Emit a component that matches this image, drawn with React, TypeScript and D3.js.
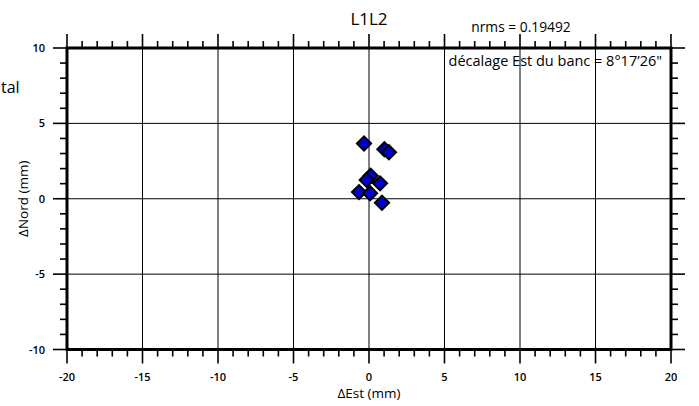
import { useEffect, useRef } from "react"
import * as d3 from "d3"

const est = [-0.33, 1.02, 1.32, 0.11, -0.15, 0.73, -0.66, 0.07, 0.86]
const nord = [3.67, 3.28, 3.08, 1.53, 1.24, 1.02, 0.44, 0.36, -0.27]
const xTicks = [-20, -15, -10, -5, 0, 5, 10, 15, 20]
const yTicks = [-10, -5, 0, 5, 10]
const title = "L1L2"
const nrmsLabel = "nrms = 0.19492"
const offsetLabel = "décalage Est du banc = 8°17’26\""
const sideLabel = "tal"

export default function App() {
  const svgRef = useRef<SVGSVGElement>(null)

  useEffect(() => {
    if (!svgRef.current) return
    const svg = d3.select(svgRef.current)
    svg.selectAll("*").remove()

    const left = 67, right = 671, top = 48, bottom = 349.5
    const font = "'Open Sans', 'Noto Sans', sans-serif"

    const x = d3.scaleLinear().domain([-20, 20]).range([left, right])
    const y = d3.scaleLinear().domain([-10, 10]).range([bottom, top])

    // grille
    const grid = svg.append("g").attr("stroke", "#000").attr("stroke-width", 1)
    xTicks.slice(1, -1).forEach(t => {
      grid.append("line").attr("x1", x(t)).attr("x2", x(t)).attr("y1", top).attr("y2", bottom)
    })
    yTicks.slice(1, -1).forEach(t => {
      grid.append("line").attr("x1", left).attr("x2", right).attr("y1", y(t)).attr("y2", y(t))
    })

    // graduations
    const minor = d3.range(-20, 21, 1)
    const minorY = d3.range(-10, 11, 1)
    const ticks = svg.append("g").attr("stroke", "#000").attr("stroke-width", 1.6)
    minor.forEach(t => {
      const len = t % 5 === 0 ? 14 : 7
      ticks.append("line").attr("x1", x(t)).attr("x2", x(t)).attr("y1", top).attr("y2", top - len)
      ticks.append("line").attr("x1", x(t)).attr("x2", x(t)).attr("y1", bottom).attr("y2", bottom + len)
    })
    minorY.forEach(t => {
      const len = t % 5 === 0 ? 14 : 7
      ticks.append("line").attr("x1", left).attr("x2", left - len).attr("y1", y(t)).attr("y2", y(t))
      ticks.append("line").attr("x1", right).attr("x2", right + len).attr("y1", y(t)).attr("y2", y(t))
    })

    // cadre
    svg.append("rect")
      .attr("x", left).attr("y", top)
      .attr("width", right - left).attr("height", bottom - top)
      .attr("fill", "none").attr("stroke", "#000").attr("stroke-width", 3)

    // étiquettes
    svg.append("g").selectAll("text").data(xTicks).enter().append("text")
      .attr("x", d => x(d)).attr("y", 381)
      .attr("text-anchor", "middle")
      .attr("font-family", font).attr("font-size", 11).attr("font-weight", 600)
      .text(d => d)
    svg.append("g").selectAll("text").data(yTicks).enter().append("text")
      .attr("x", 45).attr("y", d => y(d) + 4)
      .attr("text-anchor", "end")
      .attr("font-family", font).attr("font-size", 11).attr("font-weight", 600)
      .text(d => d)

    // points
    const data = est.map((e, i) => ({ e, n: nord[i] }))
    const sym = d3.symbol().type(d3.symbolSquare).size(100)
    svg.append("g").selectAll("path").data(data).enter().append("path")
      .attr("d", sym)
      .attr("transform", d => `translate(${x(d.e)},${y(d.n)}) rotate(45)`)
      .attr("fill", "#0000cc").attr("stroke", "#000").attr("stroke-width", 2)

    // textes
    svg.append("text").attr("x", x(0)).attr("y", 25).attr("text-anchor", "middle")
      .attr("font-family", font).attr("font-size", 17).text(title)
    svg.append("text").attr("x", 521).attr("y", 32).attr("text-anchor", "middle")
      .attr("font-family", font).attr("font-size", 13.8).text(nrmsLabel)
    svg.append("text").attr("x", 662).attr("y", 66).attr("text-anchor", "end")
      .attr("font-family", font).attr("font-size", 14.5).text(offsetLabel)
    svg.append("text").attr("x", 1).attr("y", 93).attr("text-anchor", "start")
      .attr("font-family", font).attr("font-size", 16).text(sideLabel)
    svg.append("text").attr("x", x(0)).attr("y", 398).attr("text-anchor", "middle")
      .attr("font-family", font).attr("font-size", 13.5).text("ΔEst (mm)")
    svg.append("text")
      .attr("transform", `translate(28,${y(0)}) rotate(-90)`)
      .attr("text-anchor", "middle")
      .attr("font-family", font).attr("font-size", 13.5).text("ΔNord (mm)")
  }, [])

  return (
    <svg ref={svgRef} width={699} height={406}
      style={{ position: "absolute", left: 0, top: 0, background: "#fff" }} />
  )
}
